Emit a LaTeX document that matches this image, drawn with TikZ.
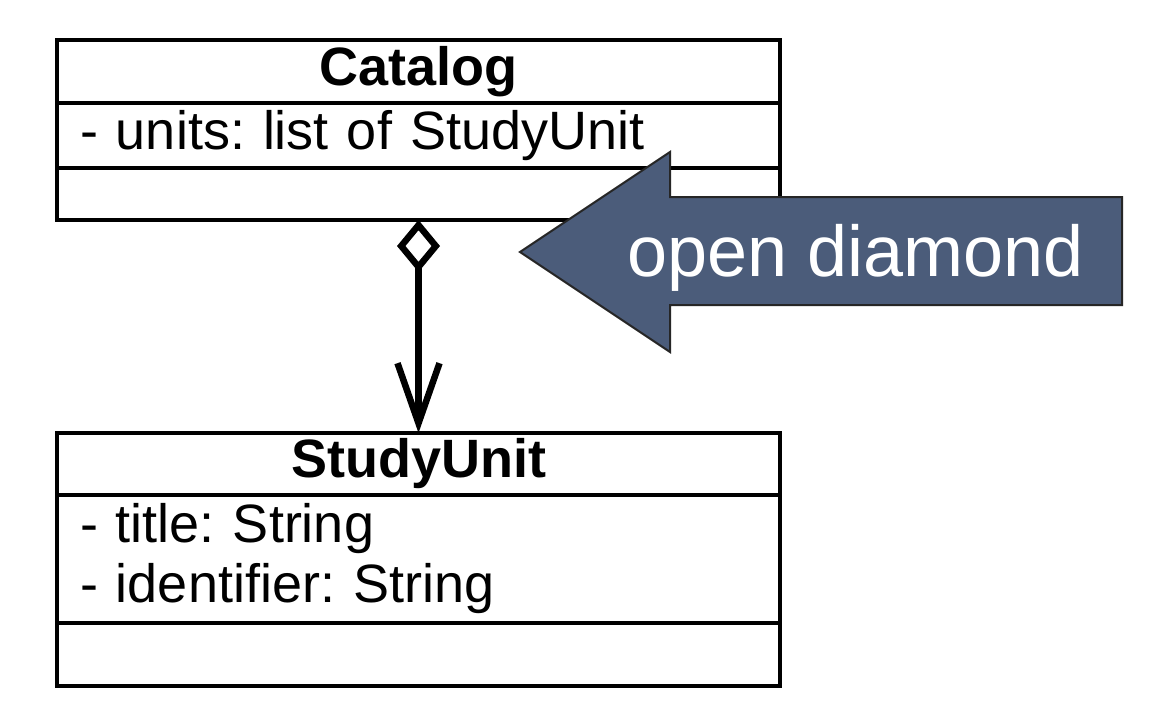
\documentclass[tikz,border=0pt]{standalone}
\usepackage{fontspec}
\setmainfont{Liberation Sans}
\usetikzlibrary{arrows.meta,
                positioning
            }

\definecolor{calloutblue}{RGB}{75,92,122}

\begin{document}
\frenchspacing
\begin{tikzpicture}[x=0.5pt, y=-0.5pt,
        umltitle/.style={draw, line width=1.75pt, minimum width=361.5pt, inner sep=0pt, outer sep=0pt,
                         font=\fontsize{27}{30}\selectfont\bfseries},
        umlfield/.style={draw, line width=1.75pt, text width=338.5pt, align=left, outer sep=0pt,
                         inner xsep=11.5pt, inner ysep=0pt, font=\fontsize{27}{30}\selectfont}]
            \useasboundingbox (0, 0) rectangle (1160, 720);
            \fill[white] (0, 0) rectangle (1160, 720);
            % Catalog class
            \node[umltitle, minimum height=31.5pt] (catalog) at (418.5, 71.5) {Catalog};
            \node[umlfield, minimum height=32.5pt, below=0pt of catalog] (catalogattr) {- units: list of StudyUnit};
            \node[umlfield, minimum height=26pt, below=0pt of catalogattr] (catalogops) {};
            % StudyUnit class
            \node[umltitle, minimum height=31pt] (studyunit) at (418.5, 464) {StudyUnit};
            \node[umlfield, minimum height=64pt, below=0pt of studyunit] (studyunitattr) {- title: String\\- identifier: String};
            \node[umlfield, minimum height=31.5pt, below=0pt of studyunitattr] (studyunitops) {};
            % aggregation
            \draw[line width=3.25pt, {Diamond[open, length=26pt, width=21.5pt]}-{Straight Barb[length=30pt, width=21pt]}]
                (catalogops.south) -- (studyunit.north);
            % callout
            \fill[calloutblue, draw=black!85, line width=1pt] (520, 252) -- (670, 152) -- (670, 197) -- (1122, 197)
                -- (1122, 305) -- (670, 305) -- (670, 352) -- cycle;
            \node[anchor=base, text=white, inner sep=0pt, font=\fontsize{36}{40}\selectfont] (callout) at (855.5, 276) {open diamond};
        \end{tikzpicture}
\end{document}
